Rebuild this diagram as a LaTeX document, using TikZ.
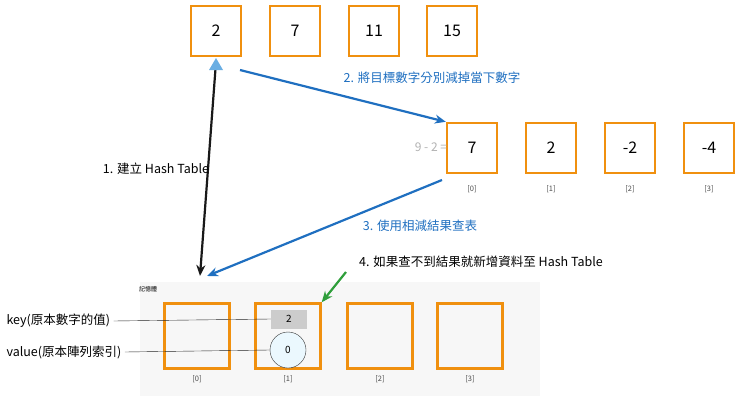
\documentclass[tikz,border=0pt]{standalone}
\usepackage{fontspec}
\setmainfont{Noto Sans CJK TC}
\usetikzlibrary{arrows.meta}
\definecolor{org}{HTML}{F0900F}
\definecolor{blu}{HTML}{1F6FC0}
\definecolor{grn}{HTML}{2E9E3A}
\begin{document}
\begin{tikzpicture}[x=1pt,y=-1pt,
  cell/.style={draw=org,line width=2.4pt,minimum size=50pt,inner sep=0pt,font=\fontsize{16}{18}\selectfont},
  bcell/.style={draw=org,line width=2.4pt,minimum size=65pt,inner sep=0pt},
  idx/.style={font=\fontsize{7.5}{9}\selectfont,text=black!70},
  lbl/.style={font=\fontsize{12.5}{14}\selectfont,text=blu},
  txt/.style={font=\fontsize{12.5}{14}\selectfont},
  conn/.style={line width=2.2pt,-{Stealth[length=11pt,width=9pt]}}]
\useasboundingbox (0,0) rectangle (740,402);
\fill[black!3] (140,282) rectangle (540,396);
\node[font=\fontsize{6}{7}\selectfont] (mem) at (148,289) {記憶體};
% top
\node[cell] (t0) at (216,31) {2};
\node[cell] (t1) at (295,31) {7};
\node[cell] (t2) at (374,31) {11};
\node[cell] (t3) at (452,31) {15};
% middle
\node[cell] (m0) at (472,148) {7};
\node[cell] (m1) at (551,148) {2};
\node[cell] (m2) at (630,148) {-2};
\node[cell] (m3) at (709,148) {-4};
\foreach \i/\x in {0/472,1/551,2/630,3/709}{\node[idx] (mi\i) at (\x,189) {[\i]};}
\node[text=black!30,font=\fontsize{12}{14}\selectfont] (eq) at (431,147) {9 - 2 =};
% bottom
\node[bcell] (b0) at (197,336) {};
\node[bcell] (b1) at (288,336) {};
\node[bcell] (b2) at (380,336) {};
\node[bcell] (b3) at (470,336) {};
\foreach \i/\x in {0/197,1/288,2/380,3/470}{\node[idx] (bi\i) at (\x,379) {[\i]};}
\node[fill=black!20,minimum width=36pt,minimum height=19pt,inner sep=0pt,font=\fontsize{10}{12}\selectfont] (key) at (289,319) {2};
\node[circle,draw=black!80,fill=cyan!8,minimum size=36pt,inner sep=0pt,font=\fontsize{10}{12}\selectfont\itshape] (val) at (288,350) {0};
\node[anchor=west,txt] (kl) at (3,321) {key(原本數字的值)};
\node[anchor=west,txt] (vl) at (3,352) {value(原本陣列索引)};
\draw[black!85] (kl.east) -- (key.west);
\draw[black!85] (vl.east) -- (val.west);
% arrows
\draw[conn,black!90] (216,62) -- (200,276);
\fill[cyan!70!blue!60] (216,58) -- (209,70) -- (223,70) -- cycle;
\node[txt] (l1) at (156,169) {1. 建立 Hash Table};
\draw[conn,blu] (240,70) -- (m0.north west);
\node[lbl] (l2) at (432,78) {2. 將目標數字分別減掉當下數字};
\draw[conn,blu] (442,180) -- (207,276);
\node[lbl] (l3) at (420,226) {3. 使用相減結果查表};
\draw[conn,grn] (346,272) -- (b1.north east);
\node[txt] (l4) at (481,262) {4. 如果查不到結果就新增資料至 Hash Table};
\end{tikzpicture}
\end{document}
